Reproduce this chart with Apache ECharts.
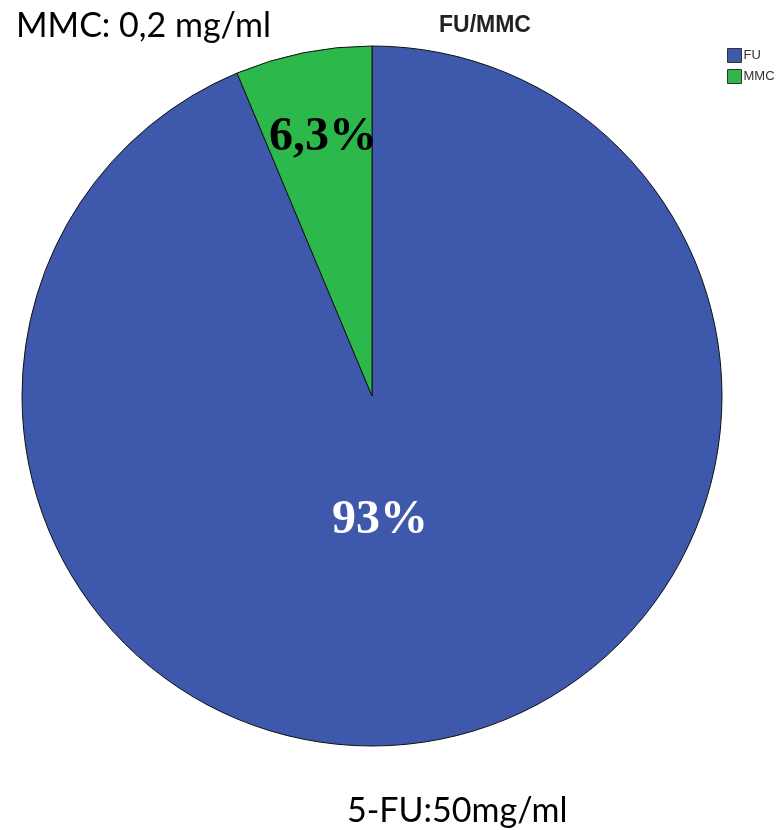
<!DOCTYPE html>
<html>
<head>
<meta charset="utf-8">
<script src="https://cdn.jsdelivr.net/npm/echarts@6/dist/echarts.min.js"></script>
<style>html,body{margin:0;padding:0;background:#fff;}#c{width:784px;height:830px;}</style>
</head>
<body>
<div id="c"></div>
<script>
const categories = ['FU', 'MMC'];
const values = [93.7, 6.3];
const labelTexts = ['93%', '6,3%'];
const colors = ['#3E58AB', '#2DB84B'];
const titleText = 'FU/MMC';
const noteTop = 'MMC: 0,2 mg/ml';
const noteBottom = '5-FU:50mg/ml';

const chart = echarts.init(document.getElementById('c'));
const labelStyles = [
  { color: '#ffffff', offset: [-27, -50] },
  { color: '#000000', offset: [-14, -84] }
];
chart.setOption({
  animation: false,
  title: [
    { text: titleText, left: 434, top: 9,
      textStyle: { fontFamily: 'Liberation Sans', fontWeight: 'bold', fontSize: 23, color: '#222' } },
    { text: noteTop, left: 11, top: 4,
      textStyle: { fontFamily: 'Lato', fontWeight: 'normal', fontSize: 34, color: '#000' } },
    { text: noteBottom, left: 342, top: 789,
      textStyle: { fontFamily: 'Lato', fontWeight: 'normal', fontSize: 34, color: '#000' } }
  ],
  legend: {
    orient: 'vertical', left: 727, top: 48, padding: 0,
    itemWidth: 14, itemHeight: 14, itemGap: 6,
    icon: 'rect',
    itemStyle: { borderColor: '#333', borderWidth: 1 },
    textStyle: { fontFamily: 'Liberation Sans', fontSize: 13, color: '#333', padding: [0, 0, 0, -3] },
    data: categories
  },
  series: [{
    type: 'pie',
    center: [372, 396],
    radius: 350,
    startAngle: 90,
    clockwise: true,
    silent: true,
    itemStyle: { borderColor: '#111', borderWidth: 1 },
    labelLine: { show: false },
    data: categories.map((name, i) => ({
      name,
      value: values[i],
      itemStyle: { color: colors[i] },
      label: {
        show: true,
        position: 'inside',
        formatter: labelTexts[i],
        fontFamily: 'Liberation Serif',
        fontWeight: 'bold',
        fontSize: 48,
        color: labelStyles[i].color,
        offset: labelStyles[i].offset
      }
    }))
  }]
});
</script>
</body>
</html>
